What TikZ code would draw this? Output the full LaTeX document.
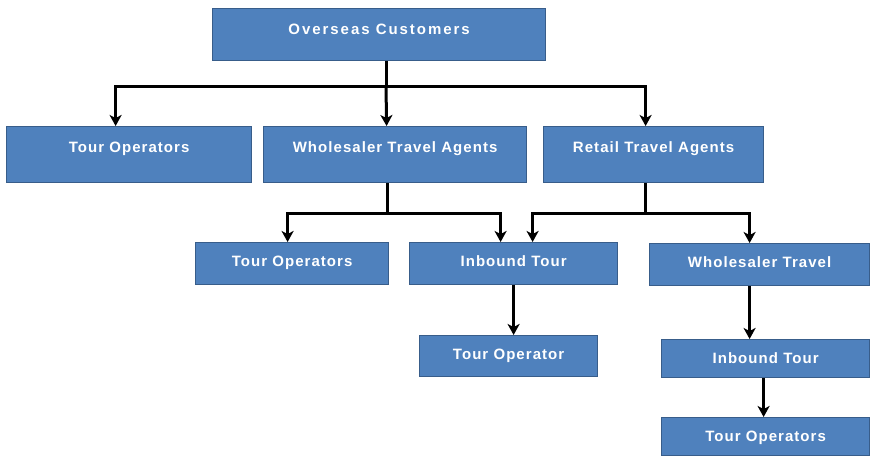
\documentclass[tikz,border=0pt]{standalone}
\usepackage{fontspec}
\usetikzlibrary{arrows.meta}
\newfontfamily\boxfont{Liberation Sans}[LetterSpace=7]
\definecolor{boxfill}{HTML}{4F81BD}
\definecolor{boxline}{HTML}{385D8A}
\tikzset{
  box/.style={draw=boxline, fill=boxfill, line width=1.2pt, anchor=north west,
    inner xsep=0pt, inner ysep=0pt, text=white,
    font=\boxfont\bfseries\fontsize{15pt}{18pt}\selectfont,
    text height=24.3pt, text depth=#1},
  tall/.style={text height=25.6pt},
  link/.style={line width=3pt},
  arr/.style={link, -{Stealth[length=11pt,width=12pt,inset=3pt]}}
}
\begin{document}
\begin{tikzpicture}[x=1pt, y=-1pt]
    \useasboundingbox (0,0) rectangle (871,456);

    % Boxes
    \node[box=26.4pt, tall, minimum width=333pt] (oc) at (212,8) {\addfontfeature{LetterSpace=13}Overseas Customers};
    \node[box=30.4pt, tall, minimum width=245pt] (to1) at (6,126) {Tour Operators};
    \node[box=30.4pt, tall, minimum width=263pt] (wta) at (263,126) {Wholesaler Travel Agents};
    \node[box=30.4pt, tall, minimum width=220pt] (rta) at (543,126) {Retail Travel Agents};
    \node[box=17.7pt, minimum width=193pt] (to2) at (195,242) {Tour Operators};
    \node[box=17.7pt, minimum width=208pt] (ib1) at (409,242) {Inbound Tour};
    \node[box=17.7pt, minimum width=220pt] (wt) at (649,243) {Wholesaler Travel};
    \node[box=16.7pt, minimum width=178pt] (top) at (419,335) {Tour Operator};
    \node[box=13.7pt, minimum width=208pt] (ib2) at (661,339) {Inbound Tour};
    \node[box=13.7pt, minimum width=208pt] (to3) at (661,417) {Tour Operators};

    % Overseas Customers to row two
    \coordinate (j1) at (386,86);
    \coordinate (a1) at ([xshift=-13.5pt]to1.north);
    \coordinate (a2) at ([xshift=-8.5pt]wta.north);
    \coordinate (a3) at ([xshift=-8pt]rta.north);
    \draw[link] (oc.south -| j1) -- (j1);
    \draw[arr] (j1) -| (a1);
    \draw[arr] (j1) -- (a2);
    \draw[arr] (j1) -| (a3);

    % Wholesaler Travel Agents to row three
    \coordinate (j2) at (387.5,213);
    \coordinate (a4) at ([xshift=-4.5pt]to2.north);
    \coordinate (a5) at ([xshift=-13pt]ib1.north);
    \draw[link] (wta.south -| j2) -- (j2);
    \draw[arr] (j2) -| (a4);
    \draw[arr] (j2) -| (a5);

    % Retail Travel Agents to row three
    \coordinate (j3) at (645,213);
    \coordinate (a6) at ([xshift=19pt]ib1.north);
    \coordinate (a7) at ([xshift=-10pt]wt.north);
    \draw[link] (rta.south -| j3) -- (j3);
    \draw[arr] (j3) -| (a6);
    \draw[arr] (j3) -| (a7);

    % Lower arrows
    \coordinate (a8) at ([xshift=-2pt]ib2.south);
    \draw[arr] (ib1.south) -- (ib1.south |- top.north);
    \draw[arr] (a7 |- wt.south) -- (a7 |- ib2.north);
    \draw[arr] (a8) -- (a8 |- to3.north);
\end{tikzpicture}
\end{document}
